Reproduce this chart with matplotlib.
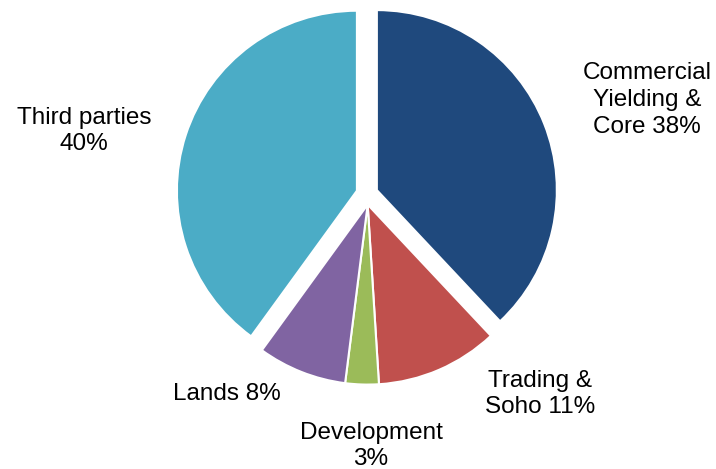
import numpy as np
import matplotlib.pyplot as plt

labels = ['Commercial\nYielding &\nCore 38%', 'Trading &\nSoho 11%', 'Development\n3%',
          'Lands 8%', 'Third parties\n40%']
shares = [38, 11, 3, 8, 40]
colors = ['#1F497D', '#C0504D', '#9BBB59', '#8064A2', '#4BACC6']
# slices pulled out as one piece share a group id
groups = [0, 1, 1, 1, 2]

W, H = 716, 469
fig = plt.figure(figsize=(W / 100, H / 100), dpi=100)
ax = fig.add_axes([0, 0, 1, 1])

cx, cy, r = 367, H - 194, 180
wedges, _ = ax.pie(shares, radius=r, center=(cx, cy), startangle=90, counterclock=False,
                   colors=colors, wedgeprops=dict(edgecolor='white', linewidth=1.5),
                   frame=True)
ax.set_xlim(0, W)
ax.set_ylim(0, H)
ax.axis('off')

# push each group out along the middle of its arc
gap = 10.6
for g in set(groups):
    ws = [w for w, k in zip(wedges, groups) if k == g]
    t1 = min(w.theta1 for w in ws)
    t2 = max(w.theta2 for w in ws)
    mid = np.deg2rad((t1 + t2) / 2)
    dx, dy = gap * np.cos(mid), gap * np.sin(mid)
    for w in ws:
        w.set_center((cx + dx, cy + dy))

label_pos = [(647, 100), (540, 394), (371, 446), (227, 394), (84, 131)]
for txt, (x, y) in zip(labels, label_pos):
    ax.text(x, H - y, txt, ha='center', va='center', fontsize=17.5,
            family='Liberation Sans', linespacing=1.27, color='black')

fig.savefig('out.png', dpi=100)
